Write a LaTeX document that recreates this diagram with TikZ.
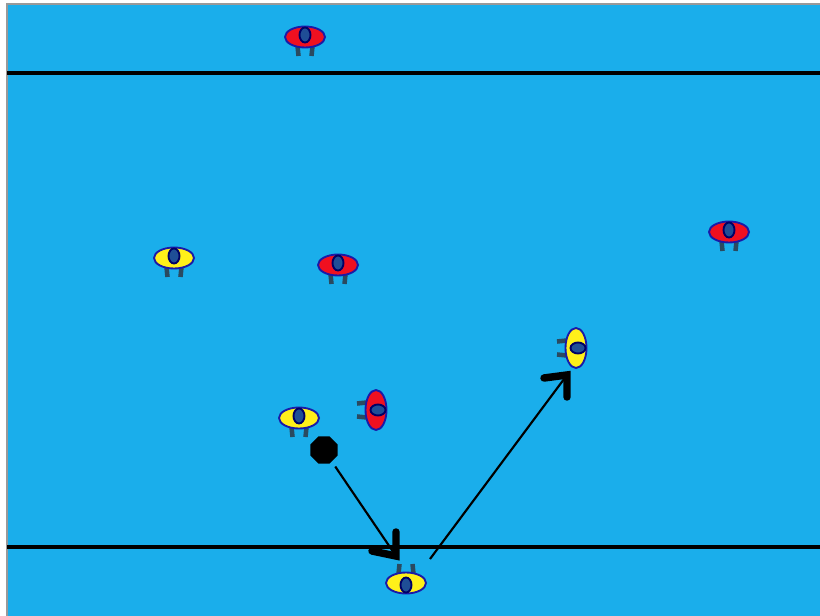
\documentclass[tikz,border=0pt]{standalone}
\usepackage{tikz}
\usetikzlibrary{shapes.geometric}
\definecolor{pool}{HTML}{1AAEEB}
\definecolor{capblue}{HTML}{1F4E96}
\definecolor{rimblue}{HTML}{1A1AA8}
\definecolor{legc}{HTML}{2A4A60}
\definecolor{pyellow}{HTML}{FFF01A}
\definecolor{pred}{HTML}{F01020}
\tikzset{
  x=0.75pt,y=-0.75pt,
  court/.style={line width=2.4pt,black},
  pass/.style={line width=1.6pt,black},
  tipstroke/.style={line width=5.6pt,black,line cap=round,line join=miter},
  ball/.style={regular polygon,regular polygon sides=8,fill=black,minimum size=22pt,inner sep=0pt},
  player/.pic={
    \draw[legc,line width=3.4pt] (-7.5,9) -- (-6.5,19);
    \draw[legc,line width=3.4pt] (7.5,9) -- (6.5,19);
    \path[draw=rimblue,fill=#1,line width=1.4pt] (0,0) ellipse [x radius=20,y radius=10.5];
    \path[draw=black!60!blue,fill=capblue,line width=1.4pt] (0,-2) ellipse [x radius=5.5,y radius=7.5];
  }
}
\begin{document}
\begin{tikzpicture}
\useasboundingbox (0,0) rectangle (820,616);
\fill[white] (0,0) rectangle (820,616);
\fill[pool] (7,4) rectangle (820,616);
\draw[gray!80,line width=0.9pt] (7,616) -- (7,4) -- (820,4);
\coordinate (lineAl) at (7,73);
\coordinate (lineAr) at (820,73);
\coordinate (lineBl) at (7,547);
\coordinate (lineBr) at (820,547);
\draw[court] (lineAl) -- (lineAr);
\draw[court] (lineBl) -- (lineBr);
\pic (r1) at (305,37) {player=pred};
\pic (r2) at (338,265) {player=pred};
\pic (r3) at (729,232) {player=pred};
\pic (y1) at (174,258) {player=pyellow};
\pic (y2) at (299,418) {player=pyellow};
\pic[rotate=-90] (r4) at (376,410) {player=pred};
\pic[rotate=-90] (y3) at (576,348) {player=pyellow};
\pic[rotate=180] (y4) at (406,583) {player=pyellow};
\node[ball] (ballA) at (324,450) {};
\coordinate (passAend) at (396,556);
\coordinate (passBstart) at (430,559);
\coordinate (passBend) at (567,375);
\draw[pass,shorten <=15pt] (ballA.center) -- (passAend);
\draw[pass] (passBstart) -- (passBend);
\draw[tipstroke] (passAend) ++(0,-24) -- (passAend) -- ++(-24,-5);
\draw[tipstroke] (passBend) ++(-23,3) -- (passBend) -- ++(0,22);
\end{tikzpicture}
\end{document}
